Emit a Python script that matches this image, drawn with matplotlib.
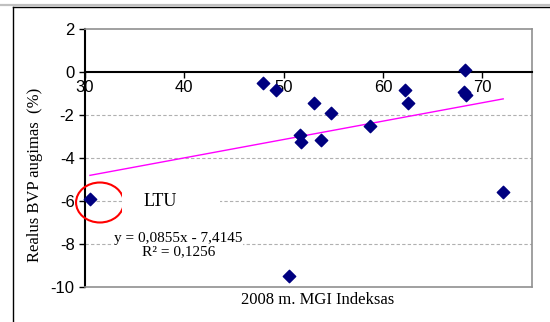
import matplotlib
matplotlib.use("Agg")
import matplotlib.pyplot as plt
import matplotlib.patches as mpatches
from matplotlib.lines import Line2D
import numpy as np

plt.rcParams["axes.unicode_minus"] = False

mgi_index = [30.5, 47.9, 49.2, 53.1, 54.8, 51.6, 51.7, 53.8, 58.7, 62.2, 62.5,
             68.3, 68.2, 68.4, 72.1, 50.5]
gdp_growth = [-5.93, -0.53, -0.85, -1.43, -1.9, -2.94, -3.27, -3.17, -2.52, -0.86, -1.43,
              0.08, -0.95, -1.05, -5.57, -9.5]
slope, intercept = 0.0855, -7.4145

x_ticks = [30, 40, 50, 60, 70]
y_ticks = [2, 0, -2, -4, -6, -8, -10]
grid_levels = [-2, -4, -6, -8]

sans = "Liberation Sans"
serif = "Liberation Serif"

fig = plt.figure(figsize=(5.5, 3.22), dpi=100)
ax = fig.add_axes([85 / 550, 1 - 287 / 322, 447 / 550, 258 / 322])
ax.set_xlim(30, 75)
ax.set_ylim(-10, 2)

# Frame around chart area
fig.add_artist(Line2D([0, 1], [0.986, 0.986], color="#c0c0c0", lw=1.6))
fig.add_artist(Line2D([0.0242, 1], [0.977, 0.977], color="black", lw=1))
fig.add_artist(Line2D([0.0242, 0.0242], [0, 0.977], color="black", lw=1))

# Grid lines
for g in grid_levels:
    ax.axhline(g, color="#b0b0b0", lw=0.8, ls=(0, (3, 2)), zorder=0.5)

# Spines
ax.spines["left"].set_color("black")
ax.spines["left"].set_linewidth(1.5)
ax.spines["bottom"].set_position(("data", 0))
ax.spines["bottom"].set_color("black")
ax.spines["bottom"].set_linewidth(1.5)
for s in ["top", "right"]:
    ax.spines[s].set_color("#909090")
    ax.spines[s].set_linewidth(1.2)
ax.plot([0, 1], [0, 0], transform=ax.transAxes, color="#909090", lw=1.2, clip_on=False, zorder=3)

ax.set_xticks(x_ticks)
ax.set_yticks(y_ticks)
ax.tick_params(axis="both", direction="out", length=4, width=1, labelsize=12, color="black")
ax.tick_params(axis="x", pad=2)
for lbl in ax.get_xticklabels() + ax.get_yticklabels():
    lbl.set_family(sans)

# Trend line
xs = np.array([min(mgi_index), max(mgi_index)])
ax.plot(xs, slope * xs + intercept, color="#ff00ff", lw=1, zorder=2)

# Points
ax.scatter(mgi_index, gdp_growth, marker="D", s=40, color="#000080", zorder=4, clip_on=False)

# LTU highlight
ax.add_patch(mpatches.Ellipse((31.5, -6.07), 4.8, 1.86, fill=False, edgecolor="red", lw=1.5, zorder=3, clip_on=False))
ax.add_patch(mpatches.Rectangle((33.7, -6.95), 9.9, 1.8, facecolor="white", edgecolor="none", zorder=3.5))
ax.text(37.6, -6.0, "LTU", family=serif, fontsize=13, ha="center", va="center", zorder=5)

# Regression equation
ax.text(39.4, -8.05, "y = 0,0855x - 7,4145\nR² = 0,1256", family=serif, fontsize=11,
        ha="center", va="center", linespacing=1.05, zorder=5,
        bbox=dict(boxstyle="square,pad=0.05", facecolor="white", edgecolor="none"))

fig.text(35 / 550, 1 - 175 / 322, "Realus BVP augimas  (%)", family=serif, fontsize=12,
         rotation=90, ha="center", va="center")
fig.text(318 / 550, 1 - 300 / 322, "2008 m. MGI Indeksas", family=serif, fontsize=12,
         ha="center", va="center")

fig.savefig("out.png", dpi=100)
